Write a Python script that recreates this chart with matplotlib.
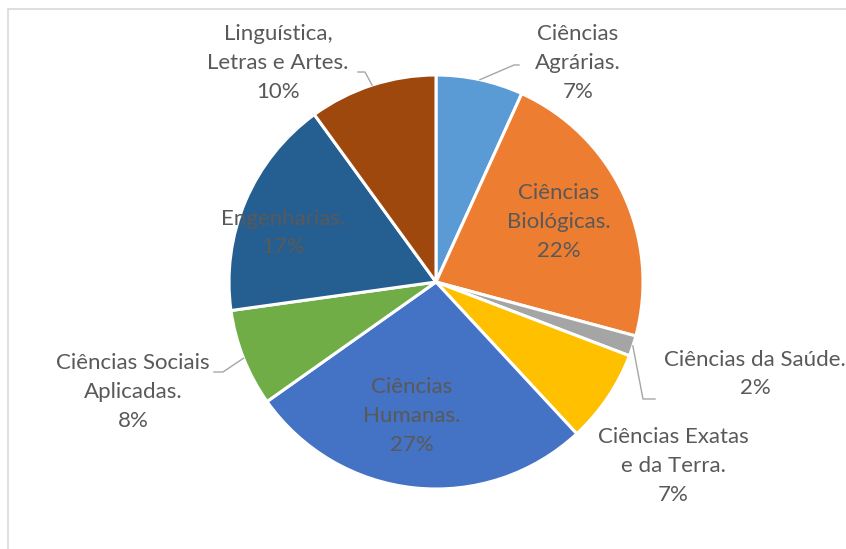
import matplotlib
matplotlib.use("Agg")
import matplotlib.pyplot as plt
import numpy as np
from matplotlib.patches import Rectangle

# area shares (percent)
areas = ["Ciências\nAgrárias.", "Ciências\nBiológicas.", "Ciências da Saúde.",
         "Ciências Exatas\ne da Terra.", "Ciências\nHumanas.",
         "Ciências Sociais\nAplicadas.", "Engenharias.",
         "Linguística,\nLetras e Artes."]
shares = [6.8, 22.4, 1.6, 7.3, 27.1, 7.6, 17.2, 10.0]
colors = ["#5B9BD5", "#ED7D31", "#A5A5A5", "#FFC000",
          "#4472C4", "#70AD47", "#255E91", "#9E480E"]

W, H = 846, 549
CX, CY, R = 436, 282, 207


def px(x, y):
    # pixel position -> pie data coords
    return (x - CX) / R, (CY - y) / R


# label centres (pixels) and leader bends (pixels), None = no leader
label_pos = [(578, 63), (559, 222), (755, 374), (673, 466),
             (412, 416), (133, 392), (283, 233), (278, 63)]
leaders = [[(514, 65), (519, 65)], None, [(643, 399), (655, 399)], None,
           None, [(223, 372), (214, 372)], None, [(365, 72), (358, 72)]]

plt.rcParams['font.family'] = ['Lato', 'DejaVu Sans']
txt_color = "#595959"

fig = plt.figure(figsize=(W / 100, H / 100), dpi=100)
# chart frame, cut off at the right and bottom like the screenshot
fig.patches.append(Rectangle((8 / W, -0.5), 1.5, 1.5 - 9 / H, transform=fig.transFigure,
                             fill=False, edgecolor="#D9D9D9", linewidth=1.2))

ax = fig.add_axes([(CX - R) / W, (H - CY - R) / H, 2 * R / W, 2 * R / H])
wedges, _ = ax.pie(shares, colors=colors, startangle=90, counterclock=False,
                   wedgeprops=dict(edgecolor="white", linewidth=2.2))
ax.set_xlim(-1, 1)
ax.set_ylim(-1, 1)
ax.axis("off")

total = sum(shares)
cum = 0
for name, v, pos, lead in zip(areas, shares, label_pos, leaders):
    mid = (cum + v / 2) / total * 2 * np.pi
    cum += v
    tx, ty = px(*pos)
    ax.text(tx, ty, f"{name}\n{round(v)}%", ha="center", va="center",
            fontsize=16, color=txt_color, linespacing=1.55)
    if lead:
        xs = [np.sin(mid)] + [px(*p)[0] for p in lead]
        ys = [np.cos(mid)] + [px(*p)[1] for p in lead]
        ax.plot(xs, ys, color="#A6A6A6", linewidth=1, clip_on=False)

fig.savefig("out.png", dpi=100)
